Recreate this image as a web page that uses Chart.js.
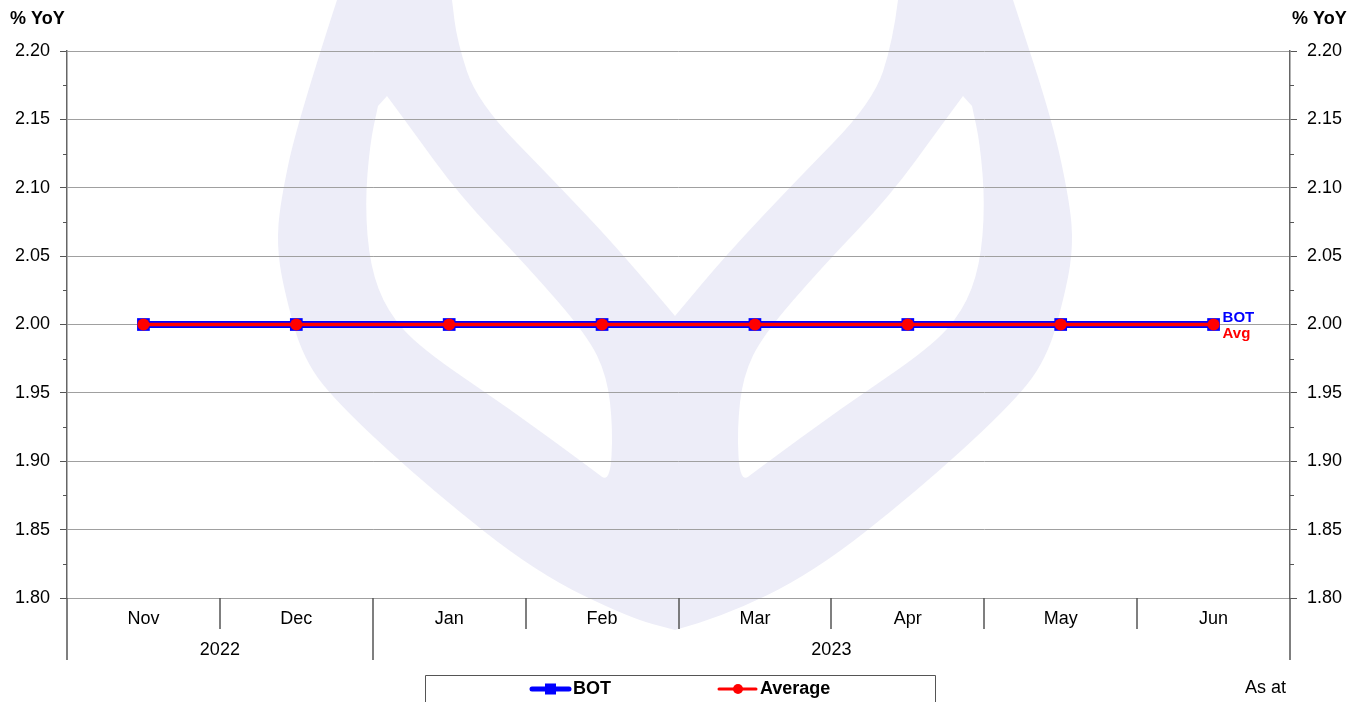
<!DOCTYPE html>
<html>
<head>
<meta charset="utf-8">
<script src="https://cdn.jsdelivr.net/npm/chart.js@4"></script>
<style>
  html, body { margin: 0; padding: 0; background: #fff; }
  #wrap { width: 1369px; height: 702px; position: relative; }
</style>
</head>
<body>
<div id="wrap"><canvas id="chart" width="1369" height="702"></canvas></div>
<script>
const FONT = "'Liberation Sans', Arial, sans-serif";

// data
const months = ['Nov', 'Dec', 'Jan', 'Feb', 'Mar', 'Apr', 'May', 'Jun'];
const years = ['2022', '2023'];
const yearSpans = [2, 6];
const botValues = [2.00, 2.00, 2.00, 2.00, 2.00, 2.00, 2.00, 2.00];
const avgValues = [2.00, 2.00, 2.00, 2.00, 2.00, 2.00, 2.00, 2.00];
const yMin = 1.80, yMax = 2.20, yStep = 0.05;

// watermark outline (left half, mirrored about x = 675)
const wmOuter = [[337,0],[297,123],[280,204],[277,245],[283,286],[303,360],[343,409],[433,491],[537,573],[630,618],[675,630]];
const wmInnerTop = [[452,0],[457,41],[477,102],[557,184],[623,254],[675,316]];
const wmHole = [[387,96],[407,123],[460,196],[527,266],[587,335],[607,376],[613,429],[610,483],[593,470],[510,409],[420,348],[387,311],[370,266],[365,204],[370,143],[378,106]];

function smoothPath(ctx, pts, move) {
  if (move) ctx.moveTo(pts[0][0], pts[0][1]); else ctx.lineTo(pts[0][0], pts[0][1]);
  for (let i = 1; i < pts.length - 1; i++) {
    const mx = (pts[i][0] + pts[i + 1][0]) / 2, my = (pts[i][1] + pts[i + 1][1]) / 2;
    ctx.quadraticCurveTo(pts[i][0], pts[i][1], mx, my);
  }
  const l = pts[pts.length - 1];
  ctx.lineTo(l[0], l[1]);
}
const mirror = pts => pts.map(p => [1350 - p[0], p[1]]);

const watermark = {
  id: 'watermark',
  beforeDraw(chart) {
    const ctx = chart.ctx;
    ctx.save();
    ctx.fillStyle = '#fff';
    ctx.fillRect(0, 0, chart.width, chart.height);
    ctx.beginPath();
    smoothPath(ctx, wmOuter, true);
    smoothPath(ctx, mirror(wmOuter).reverse(), false);
    smoothPath(ctx, mirror(wmInnerTop), false);
    smoothPath(ctx, wmInnerTop.slice().reverse(), false);
    ctx.closePath();
    smoothPath(ctx, wmHole, true);
    ctx.closePath();
    smoothPath(ctx, mirror(wmHole), true);
    ctx.closePath();
    ctx.fillStyle = 'rgb(237,237,248)';
    ctx.fill('evenodd');
    ctx.restore();
  }
};

const decorations = {
  id: 'decorations',
  afterDraw(chart) {
    const ctx = chart.ctx;
    const a = chart.chartArea;
    const x = chart.scales.x, y = chart.scales.y;
    ctx.save();

    // minor ticks
    ctx.strokeStyle = '#555';
    ctx.lineWidth = 1;
    for (let v = yMin + yStep / 2; v < yMax; v += yStep) {
      const py = Math.round(y.getPixelForValue(v)) + 0.5;
      ctx.beginPath();
      ctx.moveTo(a.left - 4, py); ctx.lineTo(a.left, py);
      ctx.moveTo(a.right, py); ctx.lineTo(a.right + 4, py);
      ctx.stroke();
    }

    // multi-level category axis
    const catW = (a.right - a.left) / months.length;
    const yearBounds = [0];
    yearSpans.forEach(s => yearBounds.push(yearBounds[yearBounds.length - 1] + s));
    ctx.strokeStyle = '#555';
    ctx.lineWidth = 1.5;
    for (let i = 0; i <= months.length; i++) {
      const px = Math.round(a.left + i * catW);
      const long = yearBounds.includes(i);
      ctx.beginPath();
      ctx.moveTo(px, a.bottom);
      ctx.lineTo(px, a.bottom + (long ? 62 : 31));
      ctx.stroke();
    }
    ctx.fillStyle = '#000';
    ctx.font = '18px ' + FONT;
    ctx.textAlign = 'center';
    ctx.textBaseline = 'middle';
    months.forEach((m, i) => ctx.fillText(m, x.getPixelForValue(i), a.bottom + 21));
    years.forEach((yr, i) => {
      const cx = a.left + (yearBounds[i] + yearBounds[i + 1]) / 2 * catW;
      ctx.fillText(yr, cx, a.bottom + 52);
    });

    // axis titles
    ctx.font = 'bold 18px ' + FONT;
    ctx.textAlign = 'left';
    ctx.fillText('% YoY', 10, 19);
    ctx.fillText('% YoY', 1292, 19);

    // end labels
    const last = months.length - 1;
    const ex = x.getPixelForValue(last) + 9;
    ctx.font = 'bold 15px ' + FONT;
    ctx.fillStyle = '#0000ff';
    ctx.fillText('BOT', ex, y.getPixelForValue(botValues[last]) - 7);
    ctx.fillStyle = '#ff0000';
    ctx.fillText('Avg', ex, y.getPixelForValue(avgValues[last]) + 9);

    // legend box
    ctx.strokeStyle = '#555';
    ctx.lineWidth = 1;
    ctx.beginPath();
    ctx.moveTo(425.5, 710); ctx.lineTo(425.5, 675.5); ctx.lineTo(935.5, 675.5); ctx.lineTo(935.5, 710);
    ctx.stroke();
    const ly = 689;
    ctx.strokeStyle = '#0000ff';
    ctx.lineWidth = 5;
    ctx.lineCap = 'round';
    ctx.beginPath(); ctx.moveTo(532, ly); ctx.lineTo(569, ly); ctx.stroke();
    ctx.fillStyle = '#0000ff';
    ctx.fillRect(545, ly - 5.5, 11, 11);
    ctx.strokeStyle = '#ff0000';
    ctx.lineWidth = 3;
    ctx.beginPath(); ctx.moveTo(719, ly); ctx.lineTo(756, ly); ctx.stroke();
    ctx.fillStyle = '#ff0000';
    ctx.beginPath(); ctx.arc(738, ly, 5, 0, Math.PI * 2); ctx.fill();
    ctx.fillStyle = '#000';
    ctx.font = 'bold 18px ' + FONT;
    ctx.fillText('BOT', 573, ly);
    ctx.fillText('Average', 760, ly);

    ctx.font = '18px ' + FONT;
    ctx.fillText('As at', 1245, 688);
    ctx.restore();
  }
};

const yTicks = {
  min: yMin, max: yMax,
  ticks: {
    stepSize: yStep,
    padding: 10,
    color: '#000',
    font: { family: FONT, size: 18 },
    callback: v => Number(v).toFixed(2)
  },
  border: { display: true, color: '#666', width: 1.5 }
};

new Chart(document.getElementById('chart').getContext('2d'), {
  type: 'line',
  data: {
    labels: months,
    datasets: [
      {
        label: 'BOT',
        data: botValues,
        borderColor: '#0000ff',
        backgroundColor: '#0000ff',
        borderWidth: 7,
        pointStyle: 'rect',
        pointRadius: 9,
        pointBorderWidth: 0,
        order: 2
      },
      {
        label: 'Average',
        data: avgValues,
        borderColor: '#ff0000',
        backgroundColor: '#ff0000',
        borderWidth: 3.5,
        pointStyle: 'circle',
        pointRadius: 6,
        pointBorderWidth: 0,
        order: 1
      }
    ]
  },
  options: {
    responsive: false,
    animation: false,
    layout: { padding: { left: 0, right: 0, top: 51, bottom: 104 } },
    plugins: { legend: { display: false }, tooltip: { enabled: false } },
    scales: {
      x: { type: 'category', offset: true, display: false },
      y: Object.assign({}, yTicks, {
        position: 'left',
        grid: { color: '#a0a0a0', lineWidth: 1, tickLength: 7, tickColor: '#555' },
        afterFit: s => { s.width = 67; }
      }),
      y2: Object.assign({}, yTicks, {
        position: 'right',
        grid: { drawOnChartArea: false, tickLength: 7, tickColor: '#555' },
        afterFit: s => { s.width = 79; }
      })
    }
  },
  plugins: [watermark, decorations]
});
</script>
</body>
</html>
